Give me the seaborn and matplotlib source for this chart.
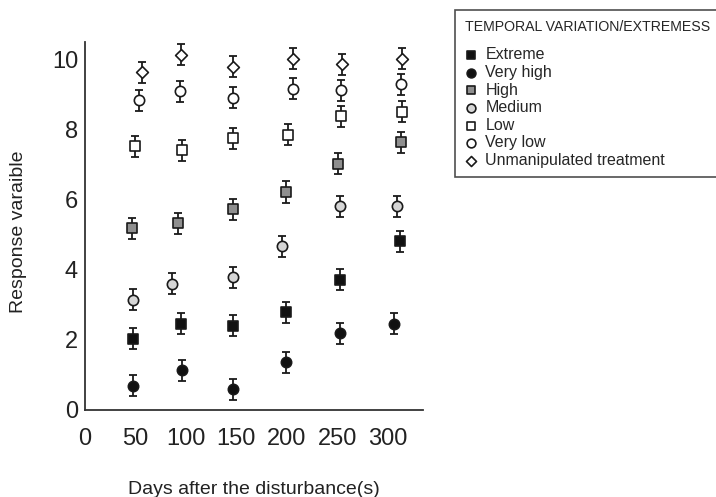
import matplotlib
matplotlib.use("Agg")
import matplotlib.pyplot as plt
import pandas as pd
import seaborn as sns

# Values (days after disturbance, response)
treatments = ['Extreme', 'Very high', 'High', 'Medium', 'Low', 'Very low',
              'Unmanipulated treatment']

days_extreme = [48, 95, 147, 199, 253, 312]
resp_extreme = [2.03, 2.46, 2.40, 2.79, 3.71, 4.81]
days_very_high = [48, 96, 147, 199, 253, 306]
resp_very_high = [0.69, 1.14, 0.59, 1.36, 2.19, 2.46]
days_high = [47, 92, 147, 199, 251, 313]
resp_high = [5.19, 5.33, 5.73, 6.22, 7.03, 7.64]
days_medium = [48, 86, 147, 195, 253, 309]
resp_medium = [3.14, 3.60, 3.79, 4.67, 5.81, 5.81]
days_low = [50, 96, 147, 201, 254, 314]
resp_low = [7.52, 7.41, 7.76, 7.86, 8.38, 8.51]
days_very_low = [54, 94, 147, 206, 254, 313]
resp_very_low = [8.84, 9.09, 8.91, 9.17, 9.12, 9.29]
days_unmanip = [56, 95, 147, 206, 255, 314]
resp_unmanip = [9.64, 10.14, 9.79, 10.02, 9.86, 10.02]
err = 0.3

x_ticks = [0, 50, 100, 150, 200, 250, 300]
y_ticks = [0, 2, 4, 6, 8, 10]

all_days = [days_extreme, days_very_high, days_high, days_medium,
            days_low, days_very_low, days_unmanip]
all_resp = [resp_extreme, resp_very_high, resp_high, resp_medium,
            resp_low, resp_very_low, resp_unmanip]

rows = []
for name, xs, ys in zip(treatments, all_days, all_resp):
    for x, y in zip(xs, ys):
        rows.append({'Treatment': name, 'Days': x, 'Response': y})
df = pd.DataFrame(rows)

# marker, fill colour, size (pt^2)
looks = {
    'Extreme': ('s', '#111111', 42),
    'Very high': ('o', '#111111', 55),
    'High': ('s', '#8f8f8f', 42),
    'Medium': ('o', '#d6d6d6', 55),
    'Low': ('s', 'white', 42),
    'Very low': ('o', 'white', 55),
    'Unmanipulated treatment': ('D', 'white', 36),
}

sns.set_style('white')
plt.rcParams['font.family'] = ['Liberation Sans', 'DejaVu Sans']

fig = plt.figure(figsize=(7.16, 4.97), dpi=100)
ax = fig.add_axes([85 / 716, 1 - 410 / 497, 338 / 716, 368 / 497])

for name in treatments:
    sub = df[df['Treatment'] == name]
    marker, face, size = looks[name]
    ax.errorbar(sub['Days'], sub['Response'], yerr=err, fmt='none',
                ecolor='#1a1a1a', elinewidth=1.3, capsize=3.2, capthick=1.3,
                zorder=2)
    sns.scatterplot(data=sub, x='Days', y='Response', marker=marker,
                    color=face, s=size, edgecolor='#1a1a1a', linewidth=1.2,
                    label=name, ax=ax, zorder=3, legend=False)

ax.set_xlim(0, 335)
ax.set_ylim(0, 10.5)
ax.set_xticks(x_ticks)
ax.set_yticks(y_ticks)
ax.tick_params(axis='both', length=0, labelsize=17, colors='#222222')
ax.tick_params(axis='x', pad=13)
ax.tick_params(axis='y', pad=5)
ax.set_xlabel('Days after the disturbance(s)', fontsize=14, labelpad=22,
              color='#222222')
ax.set_ylabel('Response varaible', fontsize=14, color='#222222')
ax.yaxis.set_label_coords(-0.172, 0.485)
sns.despine(ax=ax)
for side in ['left', 'bottom']:
    ax.spines[side].set_linewidth(1.3)
    ax.spines[side].set_color('#333333')

handles = [h for h in ax.collections if h.get_label() in treatments]
leg = fig.legend(handles, [h.get_label() for h in handles],
                 loc='upper left', bbox_to_anchor=(455 / 716, 1 - 10 / 497),
                 title='TEMPORAL VARIATION/EXTREMESS', alignment='left',
                 fontsize=11.5, title_fontsize=10.2, frameon=True,
                 fancybox=False, edgecolor='#222222', borderaxespad=0,
                 borderpad=0.6, handlelength=0.8, handletextpad=0.5,
                 labelspacing=0.16, markerscale=0.85)
leg.get_frame().set_linewidth(1.2)
leg._legend_box.sep = 10

fig.savefig('out.png', dpi=100)
